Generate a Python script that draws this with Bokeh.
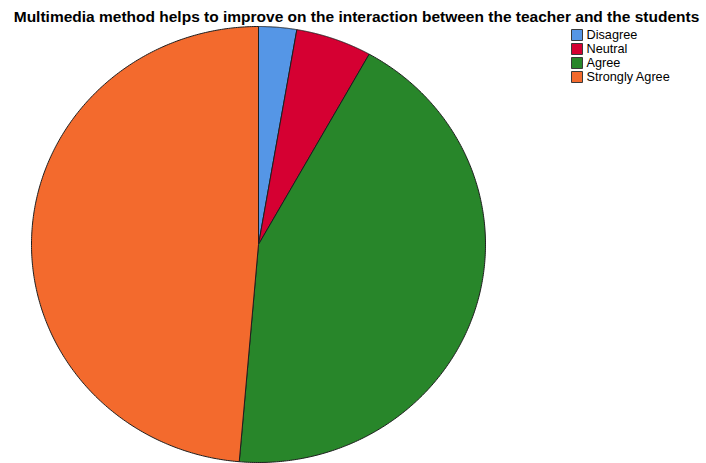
import numpy as np
from bokeh.plotting import figure
from bokeh.models import Label, Range1d
from bokeh.core.properties import value
from bokeh.embed import file_html
from bokeh.resources import INLINE

categories = ["Disagree", "Neutral", "Agree", "Strongly Agree"]
counts = [1, 2, 16, 18]
colors = ["#5596E6", "#D50032", "#28862A", "#F36A2D"]
title_text = "Multimedia method helps to improve on the interaction between the teacher and the students"

W, H = 706, 463
p = figure(width=W, height=H, output_backend="svg", toolbar_location=None,
           x_range=Range1d(0, W), y_range=Range1d(0, H), min_border=0)
p.axis.visible = False
p.grid.visible = False
p.outline_line_color = None

cx, cy = 258, H - 244
rx, ry = 227, 218

total = float(sum(counts))
fr = np.cumsum([0] + counts) / total
for i, cat in enumerate(categories):
    a0 = np.pi / 2 - 2 * np.pi * fr[i]
    a1 = np.pi / 2 - 2 * np.pi * fr[i + 1]
    t = np.linspace(a0, a1, 300)
    xs = [cx] + list(cx + rx * np.cos(t)) + [cx]
    ys = [cy] + list(cy + ry * np.sin(t)) + [cy]
    p.patch(xs, ys, fill_color=colors[i], line_color="#1e1e1e", line_width=1)

# legend
lx, ly0, pitch = 576.5, H - 34.5, 14
ly = [ly0 - pitch * i for i in range(len(categories))]
p.rect(x=[lx] * len(categories), y=ly, width=11, height=11,
       fill_color=colors, line_color="#3a3a3a", line_width=1)
p.text(x=[lx + 9.5] * len(categories), y=ly, text=categories,
       text_font=value("Liberation Sans"), text_font_size="12.7px",
       text_baseline="middle", text_align="left", text_color="#000000")

p.add_layout(Label(x=356, y=H - 16, text=title_text,
                   text_align="center", text_baseline="alphabetic",
                   text_font="Liberation Sans", text_font_style="bold",
                   text_font_size="15.5px", text_color="#000000"))

open("out.html", "w").write(file_html(p, INLINE))
